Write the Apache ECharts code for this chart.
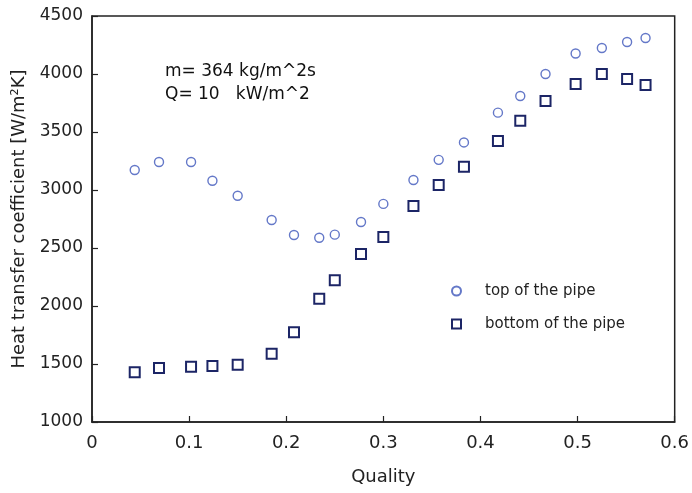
<!DOCTYPE html>
<html>
<head>
<meta charset="utf-8">
<script src="https://cdn.jsdelivr.net/npm/echarts@6/dist/echarts.min.js"></script>
<style>html,body{margin:0;padding:0;background:#fff}#c{width:692px;height:493px}</style>
</head>
<body>
<div id="c"></div>
<script>
var quality = [0.044,0.069,0.102,0.124,0.150,0.185,0.208,0.234,0.250,0.277,0.300,0.331,0.357,0.383,0.418,0.441,0.467,0.498,0.525,0.551,0.570];
var topPipe = [3172,3241,3241,3080,2950,2741,2612,2588,2615,2724,2880,3086,3260,3410,3667,3810,4000,4177,4224,4276,4310];
var bottomPipe = [1428,1465,1477,1483,1494,1589,1773,2063,2221,2448,2595,2862,3043,3201,3422,3597,3767,3914,4000,3957,3905];
var seriesNames = ['top of the pipe','bottom of the pipe'];
var xTitle = 'Quality';
var yTitle = 'Heat transfer coefficient [W/m²K]';
var noteLines = ['m= 364 kg/m^2s','Q= 10   kW/m^2'];

function pairs(xs, ys){ return xs.map(function(x,i){ return [x, ys[i]]; }); }

var font = 'DejaVu Sans, sans-serif';
var chart = echarts.init(document.getElementById('c'));
chart.setOption({
  animation:false,
  backgroundColor:'#fff',
  grid:{left:92,right:15,top:16,bottom:71,show:true,borderColor:'#222',borderWidth:1.5,backgroundColor:'transparent'},
  xAxis:{type:'value',min:0,max:0.6,interval:0.1,
    name:xTitle,nameLocation:'middle',nameGap:46,
    nameTextStyle:{fontFamily:font,fontSize:18,color:'#222'},
    axisLine:{show:true,lineStyle:{color:'#222',width:1.5}},
    axisTick:{show:true,inside:true,length:6,lineStyle:{color:'#222',width:1.2}},
    axisLabel:{fontFamily:font,fontSize:18,color:'#222',margin:12,
      formatter:function(v){ return v===0?'0':String(Math.round(v*10)/10); }},
    splitLine:{show:false}},
  yAxis:{type:'value',min:1000,max:4500,interval:500,
    name:yTitle,nameLocation:'middle',nameGap:64,
    nameTextStyle:{fontFamily:font,fontSize:18,color:'#222'},
    axisLine:{show:true,lineStyle:{color:'#222',width:1.5}},
    axisTick:{show:true,inside:true,length:6,lineStyle:{color:'#222',width:1.2}},
    axisLabel:{fontFamily:font,fontSize:17,color:'#222',margin:9,
      formatter:function(v){ return String(v); }},
    splitLine:{show:false}},
  legend:{orient:'vertical',left:446,top:277,itemGap:15,itemWidth:9,itemHeight:9,
    textStyle:{fontFamily:font,fontSize:15,color:'#222',lineHeight:18,padding:[0,0,0,19]},
    data:seriesNames},
  graphic:[
    {type:'text',left:165,top:63,style:{text:noteLines[0],font:'17px '+font,fill:'#111'}},
    {type:'text',left:165,top:86,style:{text:noteLines[1],font:'17px '+font,fill:'#111'}}
  ],
  series:[
    {name:seriesNames[0],type:'scatter',symbol:'circle',symbolSize:9,
      itemStyle:{color:'#fff',borderColor:'#6478c8',borderWidth:1.4,opacity:1},
      data:pairs(quality, topPipe)},
    {name:seriesNames[1],type:'scatter',symbol:'rect',symbolSize:10,
      itemStyle:{color:'#fff',borderColor:'#1c2566',borderWidth:2,opacity:1},
      data:pairs(quality, bottomPipe)}
  ]
});
</script>
</body>
</html>
